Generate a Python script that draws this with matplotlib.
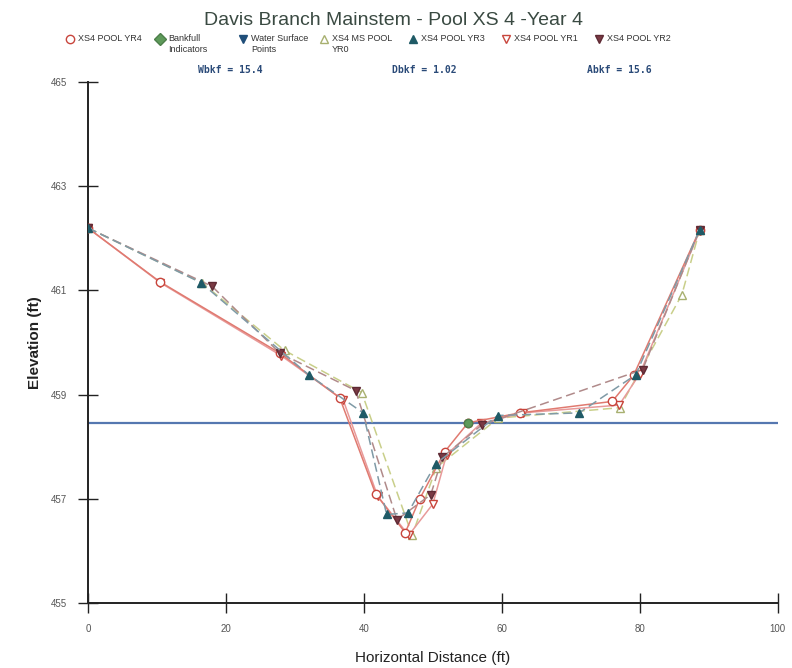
import matplotlib.pyplot as plt

plt.rcParams['font.family'] = ['Liberation Sans', 'DejaVu Sans']

# Survey data (station ft, elevation ft)
yr4_x = [0, 10.4, 27.8, 36.5, 41.7, 46.0, 48.1, 51.7, 55.1, 62.6, 76.0, 79.1, 88.7]
yr4_y = [462.2, 461.17, 459.8, 458.94, 457.1, 456.35, 457.0, 457.9, 458.46, 458.65, 458.87, 459.37, 462.17]

yr1_x = [0, 10.5, 28.0, 37.0, 42.0, 46.5, 50.0, 52.0, 57.0, 63.0, 77.0, 80.0, 88.7]
yr1_y = [462.2, 461.15, 459.75, 458.9, 457.05, 456.3, 456.9, 457.85, 458.45, 458.65, 458.8, 459.4, 462.15]

yr2_x = [0, 18.0, 27.8, 38.8, 44.8, 49.7, 51.4, 57.1, 80.4, 88.7]
yr2_y = [462.2, 461.08, 459.8, 459.08, 456.6, 457.08, 457.8, 458.42, 459.48, 462.17]

yr3_x = [0, 16.4, 32.0, 39.9, 43.3, 46.4, 50.4, 59.4, 71.2, 79.4, 88.7]
yr3_y = [462.2, 461.15, 459.38, 458.65, 456.7, 456.73, 457.67, 458.6, 458.65, 459.38, 462.17]

yr0_x = [0, 16.5, 28.5, 39.7, 47.0, 50.5, 59.5, 77.1, 86.1, 88.7]
yr0_y = [462.2, 461.15, 459.85, 459.04, 456.3, 457.6, 458.55, 458.75, 460.92, 462.17]

bankfull_x = [55.1]
bankfull_y = [458.46]

ws_x = [0, 100]
ws_y = [458.45, 458.45]

bkf_labels = ['Wbkf = 15.4', 'Dbkf = 1.02', 'Abkf = 15.6']
bkf_label_x = [20.6, 48.8, 77.0]

x_ticks = [0, 20, 40, 60, 80, 100]
y_ticks = [455, 457, 459, 461, 463, 465]

# styles for each series (also used for the legend row)
styles = {
    'XS4 POOL YR4': dict(color='#e07a70', ls='-', marker='o', mfc='white', mec='#c8453c'),
    'Bankfull\nIndicators': dict(color='#5e9a5a', ls='none', marker='D', mfc='#5e9a5a', mec='#4d7f4a'),
    'Water Surface\nPoints': dict(color='#5577b0', ls='-', marker='v', mfc='#1f4e79', mec='#1f4e79'),
    'XS4 MS POOL\nYR0': dict(color='#c9cf8a', ls='--', marker='^', mfc='white', mec='#a8b070'),
    'XS4 POOL YR3': dict(color='#7f9aa6', ls='--', marker='^', mfc='#1f5a66', mec='#1f5a66'),
    'XS4 POOL YR1': dict(color='#e89a9a', ls='-', marker='v', mfc='white', mec='#c8453c'),
    'XS4 POOL YR2': dict(color='#b08a8a', ls='--', marker='v', mfc='#7a3a44', mec='#5e2a34'),
}

fig = plt.figure(figsize=(7.92, 6.68), dpi=100)
ax = fig.add_axes([0.111, 0.0973, 0.871, 0.7797])

s = styles['Water Surface\nPoints']
ax.plot(ws_x, ws_y, color=s['color'], lw=1.6, zorder=2)

series = [
    ('XS4 MS POOL\nYR0', yr0_x, yr0_y),
    ('XS4 POOL YR1', yr1_x, yr1_y),
    ('XS4 POOL YR4', yr4_x, yr4_y),
    ('XS4 POOL YR2', yr2_x, yr2_y),
    ('XS4 POOL YR3', yr3_x, yr3_y),
]
for name, xs, ys in series:
    s = styles[name]
    line, = ax.plot(xs, ys, color=s['color'], ls=s['ls'], lw=1.1, marker=s['marker'],
                    mfc=s['mfc'], mec=s['mec'], ms=6, mew=1, zorder=3)
    if s['ls'] == '--':
        line.set_dashes((6, 3))

s = styles['Bankfull\nIndicators']
ax.plot(bankfull_x, bankfull_y, ls='none', marker='o', mfc=s['mfc'], mec=s['mec'], ms=6, zorder=4)

ax.set_xlim(0, 100)
ax.set_ylim(455, 465)
ax.set_xticks(x_ticks)
ax.set_yticks(y_ticks)
for sp in ['top', 'right']:
    ax.spines[sp].set_visible(False)
for sp in ['left', 'bottom']:
    ax.spines[sp].set_linewidth(1.4)
    ax.spines[sp].set_color('#222222')
ax.tick_params(direction='inout', length=14, width=1, colors='#222222',
               labelsize=7, labelcolor='#555555', pad=8)
ax.set_xlabel('Horizontal Distance (ft)', fontsize=11, labelpad=12, color='#222222')
ax.set_ylabel('Elevation (ft)', fontsize=11, labelpad=6, color='#222222', fontweight='bold')

for lab, xv in zip(bkf_labels, bkf_label_x):
    ax.text(xv, 1.013, lab, transform=ax.get_xaxis_transform(), ha='center', va='bottom',
            fontsize=7, family='DejaVu Sans Mono', fontweight='bold', color='#2a4a78')

fig.text(0.497, 0.982, 'Davis Branch Mainstem - Pool XS 4 -Year 4', ha='center', va='top',
         fontsize=14, color='#3a4a42')

# legend row drawn across the top
leg = fig.add_axes([0, 0, 1, 1])
leg.set_xlim(0, 792)
leg.set_ylim(668, 0)
leg.axis('off')
leg_x = [70, 160, 243, 324, 413, 506, 599]
for (name, s), lx in zip(styles.items(), leg_x):
    leg.plot([lx], [39], marker=s['marker'], mfc=s['mfc'], mec=s['mec'], ms=6, mew=1, ls='none')
    leg.text(lx + 8, 34, name, ha='left', va='top', fontsize=6.5, color='#333333', linespacing=1.3)

fig.savefig('out.png', dpi=100)
